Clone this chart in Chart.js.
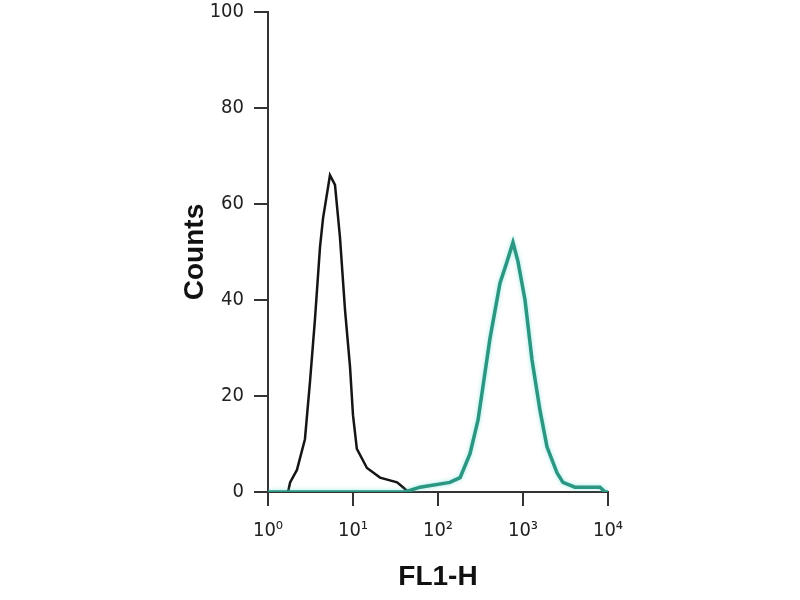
<!DOCTYPE html>
<html>
<head>
<meta charset="utf-8">
<script src="https://cdn.jsdelivr.net/npm/chart.js@4.4.0/dist/chart.umd.min.js"></script>
<style>
  html, body { margin: 0; padding: 0; background: #fff; }
  #wrap { width: 800px; height: 600px; }
</style>
</head>
<body>
<div id="wrap"><canvas id="histo" width="800" height="600"></canvas></div>
<script>
// Control (isotype) histogram - black
const controlFL1 = [1.72, 1.82, 2.19, 2.72, 3.12, 3.57, 4.09, 4.44, 5.36, 6.14, 7.03, 8.05, 9.23, 10, 11.1, 14.6, 20.8, 33, 38.7, 44.7];
const controlCounts = [0, 2, 4.6, 11, 23, 36, 51, 57, 66, 64, 53, 38, 26, 16, 9, 5, 3, 2, 1, 0];

// Stained sample histogram - teal
const stainedFL1 = [1, 40.9, 61.4, 138, 182, 238, 296, 338, 409, 536, 649, 762, 873, 1056, 1277, 1585, 1915, 2512, 2951, 4073, 8054, 9220, 10000];
const stainedCounts = [0, 0, 1, 2, 3, 8, 15, 22, 32, 43.5, 48, 52, 48, 40, 27.5, 17, 9.4, 4, 2, 1, 1, 0, 0];

const xTicks = [1, 10, 100, 1000, 10000];
const yTicks = [0, 20, 40, 60, 80, 100];
const supers = ["\u2070", "\u00b9", "\u00b2", "\u00b3", "\u2074"];

const toPoints = (xs, ys) => xs.map((x, i) => ({ x: x, y: ys[i] }));

const tickFont = { family: "'DejaVu Sans Condensed', 'DejaVu Sans', sans-serif", size: 20 };
const titleFont = { family: "'Liberation Sans', Arial, sans-serif", size: 28, weight: "bold" };

// soft cyan glow under the teal trace, like the scanned original
const glow = {
  id: "glow",
  beforeDatasetDraw(chart, args) {
    if (args.index === 0) {
      chart.ctx.save();
      chart.ctx.shadowColor = "rgba(90, 220, 210, 0.6)";
      chart.ctx.shadowBlur = 4;
    }
  },
  afterDatasetDraw(chart, args) {
    if (args.index === 0) chart.ctx.restore();
  },
};

const ctx = document.getElementById("histo").getContext("2d");
new Chart(ctx, {
  type: "scatter",
  data: {
    datasets: [
      {
        label: "Stained",
        data: toPoints(stainedFL1, stainedCounts),
        showLine: true,
        borderColor: "#2b9682",
        borderWidth: 3.5,
        pointRadius: 0,
        tension: 0,
      },
      {
        label: "Control",
        data: toPoints(controlFL1, controlCounts),
        showLine: true,
        borderColor: "#151515",
        borderWidth: 2.5,
        pointRadius: 0,
        tension: 0,
      },
    ],
  },
  options: {
    responsive: false,
    animation: false,
    layout: { padding: { top: 12, right: 192, bottom: 0, left: 0 } },
    plugins: { legend: { display: false }, tooltip: { enabled: false } },
    scales: {
      x: {
        type: "logarithmic",
        min: 1,
        max: 10000,
        afterBuildTicks: (scale) => {
          scale.ticks = xTicks.map((v) => ({ value: v }));
        },
        afterFit: (scale) => {
          scale.height = 108;
          scale.paddingLeft = 0;
          scale.paddingRight = 0;
        },
        ticks: {
          color: "#222",
          font: tickFont,
          padding: 13,
          autoSkip: false,
          maxRotation: 0,
          callback: (v) => "10" + supers[Math.round(Math.log10(v))],
        },
        grid: { drawOnChartArea: false, drawTicks: true, tickLength: 14, color: "#333", lineWidth: 2 },
        border: { color: "#333", width: 2 },
        title: { display: true, text: "FL1-H", color: "#111", font: titleFont, padding: { top: 0, bottom: 6 } },
      },
      y: {
        min: 0,
        max: 100,
        afterBuildTicks: (scale) => {
          scale.ticks = yTicks.map((v) => ({ value: v }));
        },
        afterFit: (scale) => {
          scale.width = 268;
          scale.paddingTop = 0;
          scale.paddingBottom = 0;
        },
        ticks: { color: "#222", font: tickFont, padding: 10 },
        grid: { drawOnChartArea: false, drawTicks: true, tickLength: 14, color: "#333", lineWidth: 2 },
        border: { color: "#333", width: 2 },
        title: { display: true, text: "Counts", color: "#111", font: titleFont, padding: { top: 178, bottom: 0 } },
      },
    },
  },
  plugins: [glow],
});
</script>
</body>
</html>
